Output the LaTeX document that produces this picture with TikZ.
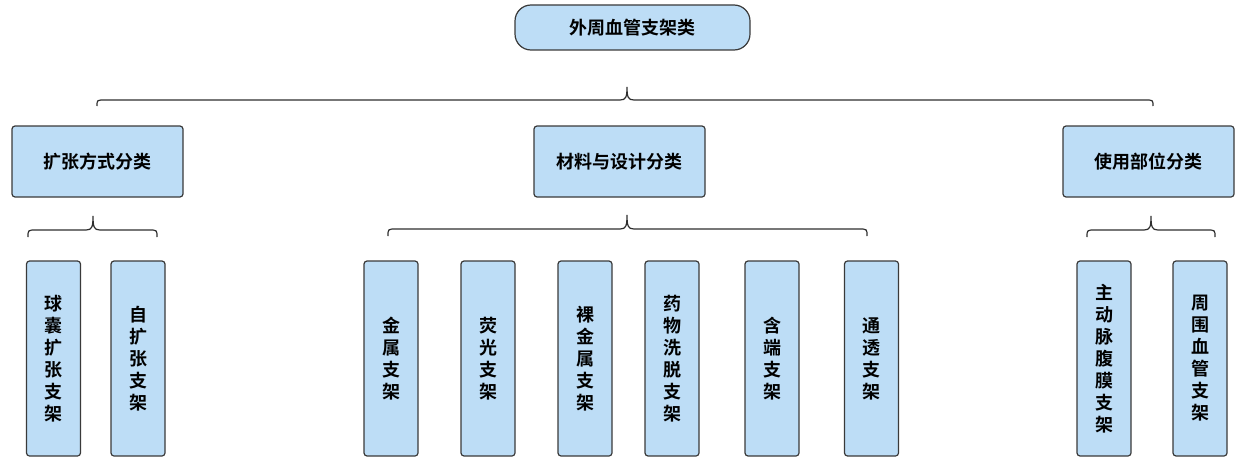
\documentclass[tikz,border=0pt]{standalone}
\usepackage{fontspec}
\setmainfont{Noto Sans CJK SC Bold}
\definecolor{boxfill}{HTML}{BDDDF6}
\definecolor{boxline}{HTML}{3A3A3A}
\definecolor{braceline}{HTML}{2E2E2E}
\newcommand{\mybrace}[6]{% x1 x2 xt yline ytip yend
  \draw[bracestyle] (#1,#6) .. controls (#1,#4) .. (#1+8,#4) -- (#3-7,#4)
    .. controls (#3-1,#4) and (#3,#4-3) .. (#3,#5)
    .. controls (#3,#4-3) and (#3+1,#4) .. (#3+7,#4) -- (#2-8,#4)
    .. controls (#2,#4) .. (#2,#6);}
\begin{document}
\begin{tikzpicture}[x=1pt,y=-1pt,
  basebox/.style={draw=boxline,fill=boxfill,line width=1.2pt,rounded corners=3pt,
    inner sep=0pt,font=\fontsize{18}{22}\selectfont,align=center},
  rootbox/.style={basebox,rounded corners=16pt,minimum width=235pt,minimum height=45pt},
  catbox/.style={basebox,minimum width=171pt,minimum height=71pt},
  leafbox/.style={basebox,minimum width=54pt,minimum height=195pt},
  bracestyle/.style={draw=braceline,line width=1.2pt}]
\useasboundingbox (0,0) rectangle (1245,460);
\node[rootbox] (root) at (632.5,27.5) {外周血管支架类};
\node[catbox] (c1) at (97.5,161.5) {扩张方式分类};
\node[catbox] (c2) at (619.5,161.5) {材料与设计分类};
\node[catbox] (c3) at (1148.5,161.5) {使用部位分类};
\node[leafbox] (l1) at (53.5,358.5) {球\\囊\\扩\\张\\支\\架};
\node[leafbox] (l2) at (138,358.5) {自\\扩\\张\\支\\架};
\node[leafbox] (l3) at (391,358.5) {金\\属\\支\\架};
\node[leafbox] (l4) at (488,358.5) {荧\\光\\支\\架};
\node[leafbox] (l5) at (585,358.5) {裸\\金\\属\\支\\架};
\node[leafbox] (l6) at (672,358.5) {药\\物\\洗\\脱\\支\\架};
\node[leafbox] (l7) at (772,358.5) {含\\端\\支\\架};
\node[leafbox] (l8) at (871.5,358.5) {通\\透\\支\\架};
\node[leafbox] (l9) at (1104,358.5) {主\\动\\脉\\腹\\膜\\支\\架};
\node[leafbox] (l10) at (1200,358.5) {周\\围\\血\\管\\支\\架};
\mybrace{97}{1153}{627}{100}{87}{106}
\mybrace{28}{157}{93}{230}{216}{237}
\mybrace{388}{867}{627}{229}{215}{236}
\mybrace{1087}{1215}{1151}{230}{216}{237}
\end{tikzpicture}
\end{document}
